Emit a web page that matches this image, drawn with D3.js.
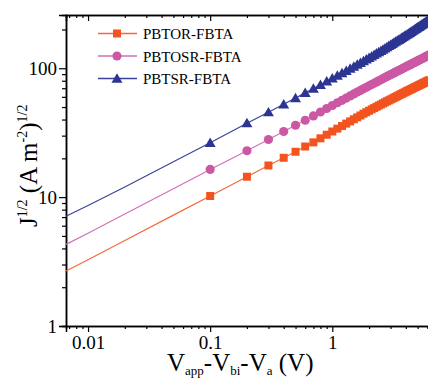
<!DOCTYPE html>
<html>
<head>
<meta charset="utf-8">
<script src="https://cdn.jsdelivr.net/npm/d3@7"></script>
<style>
  body { margin: 0; background: #fff; }
  text { font-family: "Liberation Serif", "Times New Roman", serif; }
</style>
</head>
<body>
<div id="chart"></div>
<script>
// Series names
var seriesNames = ["PBTOR-FBTA", "PBTOSR-FBTA", "PBTSR-FBTA"];

// Applied voltage (V) of the measured points
var voltage = [0.1, 0.2, 0.3, 0.4, 0.5, 0.6, 0.7, 0.8, 0.9, 1.0,
  1.1, 1.2, 1.3, 1.4, 1.5, 1.6, 1.7, 1.8, 1.9, 2.0,
  2.1, 2.2, 2.3, 2.4, 2.5, 2.6, 2.7, 2.8, 2.9, 3.0,
  3.1, 3.2, 3.3, 3.4, 3.5, 3.6, 3.7, 3.8, 3.9, 4.0,
  4.1, 4.2, 4.3, 4.4, 4.5, 4.6, 4.7, 4.8, 4.9, 5.0,
  5.1, 5.2, 5.3, 5.4, 5.5, 5.6, 5.7, 5.8, 5.9, 6.0,
  6.1, 6.2];

// J^1/2 values
var pbtor = [10.2, 14.4, 17.6, 20.2, 22.5, 24.7, 26.6, 28.6, 30.5, 32.3,
  34.0, 35.6, 37.2, 38.7, 40.2, 41.6, 43.0, 44.4, 45.6, 46.8,
  48.0, 49.1, 50.2, 51.3, 52.3, 53.4, 54.4, 55.4, 56.3, 57.2,
  58.1, 59.0, 59.9, 60.8, 61.6, 62.5, 63.3, 64.1, 64.9, 65.7,
  66.5, 67.2, 68.0, 68.7, 69.4, 70.2, 70.9, 71.6, 72.2, 72.9,
  73.6, 74.3, 74.9, 75.6, 76.3, 76.9, 77.6, 78.2, 78.8, 79.5,
  80.1, 80.7];
var pbtosr = [16.4, 22.9, 28.0, 32.3, 36.1, 39.5, 42.7, 45.8, 48.7, 51.4,
  54.0, 56.4, 58.7, 61.0, 63.2, 65.3, 67.3, 69.3, 71.1, 73.0,
  74.8, 76.5, 78.2, 79.9, 81.5, 83.1, 84.7, 86.2, 87.7, 89.2,
  90.6, 92.0, 93.4, 94.7, 96.1, 97.4, 98.7, 100.0, 101.3, 102.5,
  103.8, 105.0, 106.2, 107.4, 108.6, 109.7, 110.9, 112.0, 113.1, 114.2,
  115.3, 116.4, 117.5, 118.6, 119.6, 120.7, 121.7, 122.7, 123.8, 124.8,
  125.8, 126.8];
var pbtsr = [26.4, 37.5, 45.6, 52.6, 58.8, 64.4, 69.6, 74.5, 79.1, 83.5,
  87.7, 91.7, 95.6, 99.4, 103.1, 106.7, 110.3, 113.8, 117.2, 120.5,
  123.8, 127.1, 130.4, 133.5, 136.7, 139.8, 142.9, 146.0, 149.0, 152.0,
  155.0, 157.9, 160.8, 163.7, 166.5, 169.3, 172.2, 175.0, 177.7, 180.5,
  183.3, 185.9, 188.7, 191.4, 194.1, 196.8, 199.5, 202.1, 204.8, 207.4,
  210.0, 212.6, 215.2, 217.9, 220.4, 223.0, 225.6, 228.2, 230.7, 233.3,
  235.9, 238.4];

// Fit line below 0.1 V (no markers)
var fitVoltage = [0.0066, 0.01, 0.02, 0.05, 0.1];
var pbtorFit = [2.67, 3.27, 4.6, 7.25, 10.2];
var pbtosrFit = [4.3, 5.25, 7.4, 11.6, 16.4];
var pbtsrFit = [7.1, 8.6, 12.0, 18.8, 26.4];

// Tick labels
var xTickValues = [0.01, 0.1, 1];
var yTickValues = [1, 10, 100];

// Define svg element width and height
var svgWidth = 428;
var svgHeight = 379;

// plot box (right side is cut by the picture edge)
var margin = { top: 15, right: 0, bottom: 53, left: 66 };
var chartWidth = svgWidth - margin.left - margin.right + 1.5;
var chartHeight = svgHeight - margin.top - margin.bottom;

var svg = d3.select("#chart")
  .append("svg")
  .attr("width", svgWidth)
  .attr("height", svgHeight);

var chartGroup = svg.append("g")
  .attr("transform", `translate(${margin.left}, ${margin.top})`);

// log scales
var xLogScale = d3.scaleLog()
  .domain([0.0066, 6.25])
  .range([0, chartWidth]);

var yLogScale = d3.scaleLog()
  .domain([1, 259])
  .range([chartHeight, 0]);

var xMinor = xLogScale.ticks().filter(d => xTickValues.indexOf(d) < 0);
var yMinor = yLogScale.ticks().filter(d => yTickValues.indexOf(d) < 0);

function styleAxis(g) {
  g.select(".domain").attr("stroke", "#000").attr("stroke-width", 1.5);
  g.selectAll(".tick line").attr("stroke", "#000").attr("stroke-width", 1.2);
  g.selectAll("text").attr("font-size", "19px").attr("fill", "#000")
    .attr("font-family", "Liberation Serif");
}

// bottom axis: minor then major
chartGroup.append("g")
  .attr("transform", `translate(0, ${chartHeight})`)
  .call(d3.axisBottom(xLogScale).tickValues(xMinor).tickSize(3).tickFormat(""))
  .call(styleAxis);
chartGroup.append("g")
  .attr("transform", `translate(0, ${chartHeight})`)
  .call(d3.axisBottom(xLogScale).tickValues(xTickValues).tickSize(6).tickPadding(4)
    .tickFormat(d => d3.format("~g")(d)))
  .call(styleAxis);

// top axis, ticks pointing in
chartGroup.append("g")
  .call(d3.axisTop(xLogScale).tickValues(xMinor).tickSize(-3).tickFormat(""))
  .call(styleAxis);
chartGroup.append("g")
  .call(d3.axisTop(xLogScale).tickValues(xTickValues).tickSize(-6).tickFormat(""))
  .call(styleAxis);

// left axis
chartGroup.append("g")
  .call(d3.axisLeft(yLogScale).tickValues(yMinor).tickSize(4).tickFormat(""))
  .call(styleAxis);
chartGroup.append("g")
  .call(d3.axisLeft(yLogScale).tickValues(yTickValues).tickSize(7).tickPadding(2)
    .tickFormat(d => d3.format("~g")(d)))
  .call(styleAxis);

// series
var seriesData = [
  { name: seriesNames[0], fitY: pbtorFit, y: pbtor, color: "#f2531f", lineColor: "#f26a3c", symbol: d3.symbolSquare, size: 64 },
  { name: seriesNames[1], fitY: pbtosrFit, y: pbtosr, color: "#cc58a4", lineColor: "#d470b6", symbol: d3.symbolCircle, size: 66 },
  { name: seriesNames[2], fitY: pbtsrFit, y: pbtsr, color: "#2c3592", lineColor: "#3c429c", symbol: d3.symbolTriangle, size: 52 }
];

var line = d3.line()
  .x(d => xLogScale(d[0]))
  .y(d => yLogScale(d[1]));

seriesData.forEach(function(s) {
  // fit line first, then the line through the measured points
  var pts = fitVoltage.map((v, i) => [v, s.fitY[i]])
    .concat(voltage.slice(1).map((v, i) => [v, s.y[i + 1]]));
  chartGroup.append("path")
    .datum(pts)
    .attr("fill", "none")
    .attr("stroke", s.lineColor)
    .attr("stroke-width", 1.2)
    .attr("d", line);

  chartGroup.selectAll(null)
    .data(voltage.map((v, i) => [v, s.y[i]]))
    .enter()
    .append("path")
    .attr("d", d3.symbol().type(s.symbol).size(s.size))
    .attr("transform", d => `translate(${xLogScale(d[0])}, ${yLogScale(d[1]) + (s.symbol === d3.symbolTriangle ? 1 : 0)})`)
    .attr("fill", s.color);
});

// legend
var legend = svg.append("g");
seriesData.forEach(function(s, i) {
  var ly = 33.5 + i * 22.5;
  legend.append("line")
    .attr("x1", 98).attr("x2", 137)
    .attr("y1", ly).attr("y2", ly)
    .attr("stroke", s.lineColor)
    .attr("stroke-width", 1.6);
  legend.append("path")
    .attr("d", d3.symbol().type(s.symbol).size(s.size))
    .attr("transform", `translate(117, ${ly + (s.symbol === d3.symbolTriangle ? 1 : 0)})`)
    .attr("fill", s.color);
  legend.append("text")
    .attr("x", 143)
    .attr("y", ly + 5.5)
    .attr("font-size", "15px")
    .attr("fill", "#000")
    .text(s.name);
});

// x axis title
var xTitle = svg.append("text")
  .attr("x", 167)
  .attr("y", 371)
  .attr("font-size", "25px")
  .attr("fill", "#000");
xTitle.append("tspan").text("V");
xTitle.append("tspan").attr("font-size", "13px").attr("dy", 4).text("app");
xTitle.append("tspan").attr("dy", -4).text("-V");
xTitle.append("tspan").attr("font-size", "13px").attr("dy", 4).text("bi");
xTitle.append("tspan").attr("dy", -4).text("-V");
xTitle.append("tspan").attr("font-size", "13px").attr("dy", 4).text("a");
xTitle.append("tspan").attr("dy", -4).text(" (V)");

// y axis title
var yTitle = svg.append("text")
  .attr("transform", "translate(37, 227) rotate(-90)")
  .attr("font-size", "25px")
  .attr("fill", "#000");
yTitle.append("tspan").text("J");
yTitle.append("tspan").attr("font-size", "14px").attr("dy", -10).text("1/2");
yTitle.append("tspan").attr("dy", 10).text(" (A m");
yTitle.append("tspan").attr("font-size", "14px").attr("dy", -10).text("-2");
yTitle.append("tspan").attr("dy", 10).text(")");
yTitle.append("tspan").attr("font-size", "14px").attr("dy", -10).text("1/2");
</script>
</body>
</html>
